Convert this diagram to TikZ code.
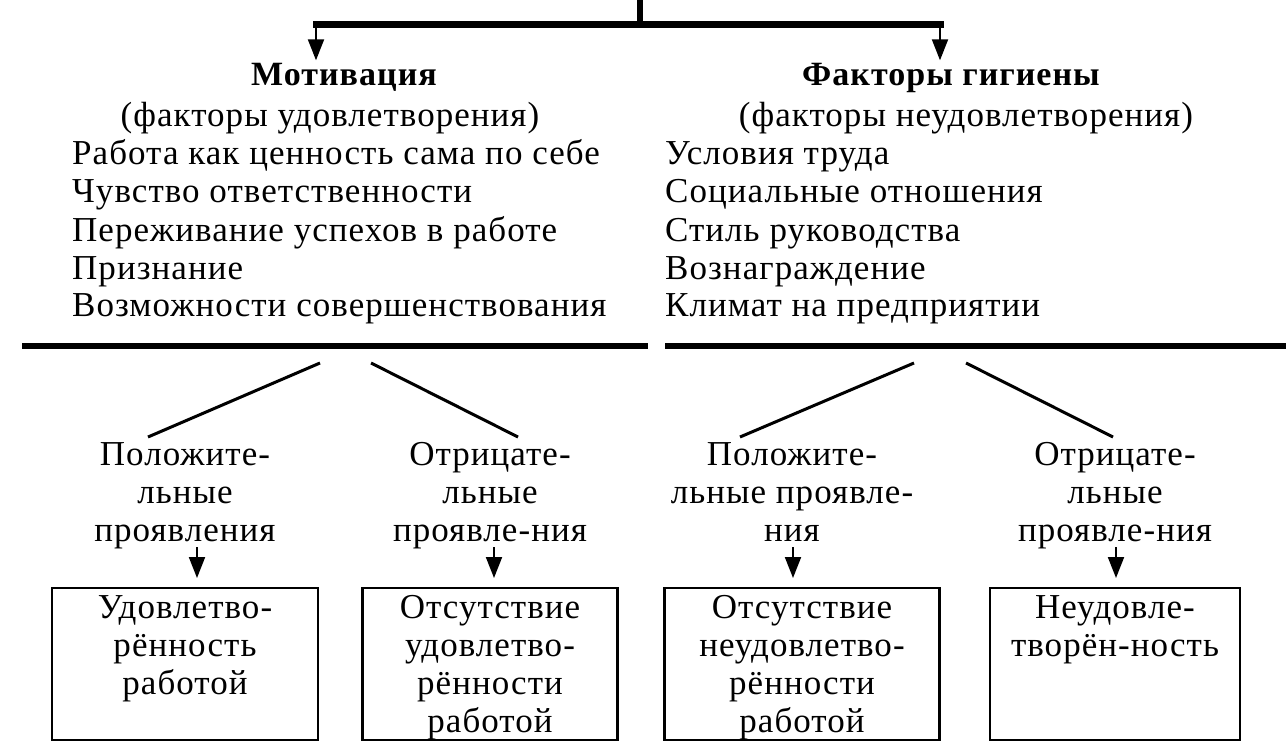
\documentclass[tikz,border=0pt]{standalone}
\usepackage{fontspec}
\setmainfont{Liberation Serif}[LetterSpace=3]
\usetikzlibrary{arrows.meta}
\tikzset{
  txt/.style={inner sep=0pt, font=\fontsize{35}{38}\selectfont, text height=25pt, text depth=8pt},
  ml/.style={inner sep=0pt, font=\fontsize{35}{38}\selectfont, align=center},
  head/.style={txt, font=\fontsize{34}{38}\selectfont\bfseries},
  thick bar/.style={line width=7pt},
  diag/.style={line width=3pt},
  arr/.style={line width=2pt, -{Triangle[width=16pt,length=21pt]}},
  boxst/.style={draw, line width=2.5pt, inner sep=0pt},
}
\begin{document}
\begin{tikzpicture}[x=1pt,y=-1pt]
\useasboundingbox (0,0) rectangle (1286,753);
% top connector
\coordinate (top) at (640,0);
\coordinate (jn) at (640,24);
\coordinate (bl) at (316,24);
\coordinate (br) at (940,24);
\draw[line width=6pt] (top) -- (jn);
\draw[thick bar, line cap=rect] (bl) -- (br);
% headings
\node[head] (h1) at (344,77) {Мотивация};
\node[head] (h2) at (951,77) {Факторы гигиены};
\draw[arr] (bl) -- (h1.north -| bl);
\draw[arr] (br) -- (h2.north -| br);
\node[txt] (s1) at (330,118) {(факторы удовлетворения)};
\node[txt] (s2) at (966,118) {(факторы неудовлетворения)};
% lists
\node[txt, anchor=west] (a1) at (72,156) {Работа как ценность сама по себе};
\node[txt, anchor=west] (a2) at (72,194) {Чувство ответственности};
\node[txt, anchor=west] (a3) at (72,233) {Переживание успехов в работе};
\node[txt, anchor=west] (a4) at (72,271) {Признание};
\node[txt, anchor=west] (a5) at (72,308) {Возможности совершенствования};
\node[txt, anchor=west] (c1) at (665,156) {Условия труда};
\node[txt, anchor=west] (c2) at (665,194) {Социальные отношения};
\node[txt, anchor=west] (c3) at (665,233) {Стиль руководства};
\node[txt, anchor=west] (c4) at (665,271) {Вознаграждение};
\node[txt, anchor=west] (c5) at (665,308) {Климат на предприятии};
% separator lines
\coordinate (ll) at (22,346);
\coordinate (lr) at (648,346);
\coordinate (rl) at (665,346);
\coordinate (rr) at (1286,346);
\draw[line width=6pt] (ll) -- (lr);
\draw[line width=6pt] (rl) -- (rr);
% labels
\node[ml, anchor=north] (l1) at (185,442) {Положите-\\льные\\проявления};
\node[ml, anchor=north] (l2) at (490,442) {Отрицате-\\льные\\проявле-ния};
\node[ml, anchor=north] (l3) at (792,442) {Положите-\\льные проявле-\\ния};
\node[ml, anchor=north] (l4) at (1115,442) {Отрицате-\\льные\\проявле-ния};
% diagonals
\coordinate (d1) at (320,363);
\coordinate (d2) at (371,363);
\coordinate (d3) at (914,363);
\coordinate (d4) at (966,363);
\draw[diag] (d1) -- (148,437) coordinate (e1);
\draw[diag] (d2) -- (518,437) coordinate (e2);
\draw[diag] (d3) -- (740,437) coordinate (e3);
\draw[diag] (d4) -- (1113,437) coordinate (e4);
% boxes
\node[boxst, minimum width=266pt, minimum height=152pt] (b1) at (185,664) {};
\node[boxst, minimum width=255pt, minimum height=152pt] (b2) at (490,664) {};
\node[boxst, minimum width=275pt, minimum height=152pt] (b3) at (802,664) {};
\node[boxst, minimum width=250pt, minimum height=152pt] (b4) at (1115,664) {};
\node[ml, anchor=north] (t1) at (185,595) {Удовлетво-\\рённость\\работой};
\node[ml, anchor=north] (t2) at (490,595) {Отсутствие\\удовлетво-\\рённости\\работой};
\node[ml, anchor=north] (t3) at (802,595) {Отсутствие\\неудовлетво-\\рённости\\работой};
\node[ml, anchor=north] (t4) at (1115,595) {Неудовле-\\творён-ность};
% arrows
\draw[arr] (197,547) -- (197,578);
\draw[arr] (494,547) -- (494,578);
\draw[arr] (793,547) -- (793,578);
\draw[arr] (1116,547) -- (1116,578);
\end{tikzpicture}
\end{document}
